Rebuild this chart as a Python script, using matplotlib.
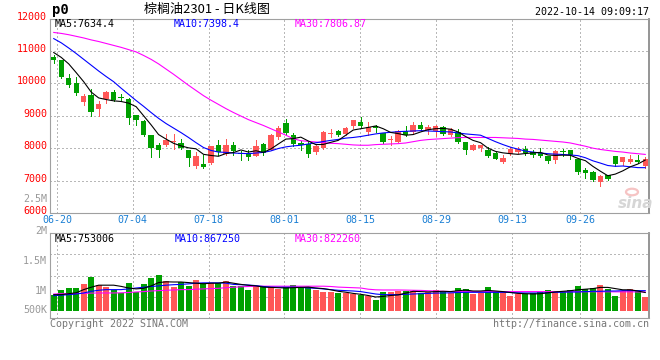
import matplotlib
matplotlib.use('Agg')
import matplotlib.pyplot as plt
import matplotlib.transforms as mtransforms
from matplotlib.patches import Circle
import numpy as np

# daily candles 06-17 .. 10-14 (80 trading days)
opens = [10800, 10720, 10174, 10021, 9439, 9643, 9215, 9521, 9735, 9575,
         9520, 9030, 8827, 8420, 8113, 8093, 8195, 8164, 7940, 7450,
         7517, 7537, 8104, 7826, 8104, 7860, 7847, 7764, 8125, 7949,
         8341, 8773, 8413, 8155, 8135, 7867, 8001, 8433, 8516, 8444,
         8670, 8794, 8485, 8691, 8464, 8238, 8186, 8516, 8485, 8701,
         8547, 8536, 8640, 8393, 8495, 8176, 7949, 8000, 7949, 7847,
         7572, 7817, 7878, 7970, 7868, 7847, 7766, 7623, 7908, 7949,
         7664, 7337, 7266, 6960, 7164, 7766, 7572, 7562, 7643, 7439]
closes = [10730, 10200, 9949, 9715, 9623, 9103, 9368, 9745, 9490, 9560,
          8930, 8880, 8420, 8000, 7940, 8266, 8225, 7990, 7685, 7756,
          7404, 8052, 7867, 8104, 7898, 7830, 7713, 8073, 7847, 8413,
          8619, 8464, 8125, 8083, 7816, 8052, 8495, 8444, 8393, 8619,
          8856, 8691, 8650, 8619, 8176, 8290, 8516, 8393, 8722, 8588,
          8640, 8670, 8433, 8588, 8176, 7929, 8083, 8083, 7743, 7672,
          7694, 7970, 7980, 7847, 7796, 7745, 7592, 7898, 7888, 7776,
          7256, 7235, 7031, 7133, 7051, 7521, 7715, 7664, 7572, 7664]
highs = [10870, 10730, 10276, 10204, 9674, 9817, 9460, 9776, 9786, 9664,
         9540, 9030, 8858, 8420, 8164, 8440, 8450, 8287, 7940, 7890,
         7795, 8073, 8258, 8279, 8176, 7900, 7950, 8258, 8155, 8434,
         8691, 8897, 8464, 8207, 8176, 8104, 8516, 8588, 8567, 8640,
         8876, 8948, 8815, 8722, 8464, 8361, 8547, 8691, 8794, 8794,
         8722, 8701, 8670, 8619, 8598, 8176, 8125, 8083, 8021, 7877,
         7796, 8031, 8031, 8072, 7929, 8000, 7766, 7929, 7970, 7949,
         7664, 7388, 7286, 7164, 7184, 7766, 7715, 7776, 7796, 7715]
lows = [10640, 10150, 9878, 9643, 9337, 9001, 8980, 9388, 9450, 9440,
        8736, 8700, 8368, 7736, 7736, 8062, 7960, 7960, 7450, 7390,
        7383, 7517, 7795, 7795, 7795, 7620, 7650, 7744, 7775, 7929,
        8279, 8413, 8073, 7929, 7723, 7826, 7970, 8341, 8361, 8413,
        8619, 8650, 8413, 8485, 8155, 8083, 8176, 8361, 8444, 8567,
        8444, 8382, 8402, 8361, 8155, 7826, 7929, 7898, 7713, 7661,
        7541, 7796, 7847, 7796, 7715, 7725, 7541, 7541, 7766, 7674,
        7215, 7082, 7000, 6848, 7010, 7460, 7490, 7541, 7541, 7388]

ma5 = [10950, 10800, 10600, 10330, 10050, 9730, 9550, 9500, 9460, 9440,
       9390, 9280, 9000, 8720, 8420, 8280, 8150, 8070, 8010, 7980,
       7810, 7775, 7750, 7835, 7865, 7945, 7880, 7920, 7870, 7975,
       8130, 8280, 8295, 8340, 8220, 8110, 8115, 8180, 8240, 8400,
       8560, 8600, 8640, 8685, 8600, 8485, 8450, 8400, 8420, 8500,
       8570, 8600, 8610, 8585, 8500, 8360, 8240, 8170, 8000, 7900,
       7855, 7830, 7810, 7835, 7855, 7870, 7790, 7775, 7785, 7780,
       7685, 7615, 7440, 7290, 7150, 7200, 7300, 7425, 7510, 7634]
ma10 = [11380, 11250, 11090, 10920, 10740, 10560, 10380, 10210, 10050, 9850,
        9660, 9470, 9290, 9100, 8920, 8760, 8620, 8480, 8330, 8170,
        8020, 7930, 7880, 7870, 7850, 7840, 7830, 7850, 7870, 7915,
        7990, 8040, 8070, 8090, 8130, 8165, 8205, 8240, 8270, 8310,
        8330, 8360, 8400, 8440, 8470, 8490, 8510, 8520, 8530, 8540,
        8530, 8520, 8510, 8500, 8470, 8440, 8420, 8400, 8300, 8200,
        8110, 8030, 7970, 7910, 7880, 7850, 7830, 7815, 7805, 7790,
        7770, 7705, 7610, 7540, 7465, 7440, 7450, 7425, 7400, 7398]
ma30 = [11570, 11540, 11500, 11450, 11400, 11340, 11290, 11230, 11170, 11110,
        11040, 10970, 10860, 10740, 10600, 10440, 10280, 10110, 9940, 9780,
        9620, 9480, 9350, 9220, 9100, 8990, 8880, 8790, 8700, 8600,
        8500, 8400, 8290, 8230, 8210, 8190, 8170, 8150, 8140, 8120,
        8100, 8090, 8090, 8110, 8120, 8130, 8140, 8160, 8200, 8240,
        8265, 8280, 8295, 8310, 8325, 8330, 8330, 8330, 8330, 8330,
        8320, 8310, 8300, 8280, 8270, 8250, 8230, 8210, 8190, 8160,
        8110, 8060, 8000, 7960, 7930, 7900, 7880, 7850, 7830, 7807]

volume = [938, 1017, 1051, 1051, 1119, 1238, 1097, 1068, 1023, 961,
          1136, 984, 1119, 1221, 1272, 1170, 1074, 1148, 1080, 1187,
          1136, 1136, 1136, 1170, 1085, 1091, 1017, 1080, 1063, 1068,
          1040, 1063, 1102, 1051, 1063, 1017, 984, 984, 967, 961,
          944, 927, 910, 854, 984, 984, 1006, 995, 1006, 967,
          984, 1017, 1006, 961, 1051, 1035, 950, 973, 1068, 978,
          978, 922, 956, 950, 967, 990, 1017, 1006, 1006, 1017,
          1085, 1029, 1051, 1102, 1035, 922, 995, 1035, 1006, 905]
vol_ma5 = [939, 939, 956, 970, 1023, 1063, 1097, 1097, 1097, 1077,
           1050, 1035, 1045, 1085, 1140, 1153, 1150, 1150, 1140, 1130,
           1120, 1130, 1130, 1150, 1130, 1110, 1095, 1085, 1065, 1060,
           1055, 1050, 1055, 1060, 1065, 1050, 1040, 1020, 995, 980,
           960, 945, 925, 900, 910, 925, 935, 965, 995, 990,
           985, 990, 995, 990, 1005, 1015, 1000, 1000, 1010, 1000,
           990, 975, 960, 955, 950, 955, 970, 985, 995, 1005,
           1020, 1030, 1040, 1060, 1060, 1040, 1020, 1020, 1000, 975]
vol_ma10 = [922, 930, 939, 950, 967, 995, 1012, 1023, 1023, 1023,
            1035, 1050, 1063, 1075, 1085, 1097, 1105, 1110, 1119, 1130,
            1136, 1136, 1136, 1130, 1110, 1105, 1100, 1090, 1075, 1065,
            1063, 1063, 1063, 1060, 1051, 1045, 1035, 1023, 1012, 1006,
            1000, 990, 970, 950, 939, 939, 939, 945, 950, 955,
            960, 965, 967, 970, 975, 978, 978, 978, 978, 978,
            978, 975, 970, 967, 967, 967, 970, 978, 980, 984,
            984, 990, 995, 995, 1000, 1000, 1006, 1006, 1006, 1006]
vol_ma30 = [950, 955, 956, 958, 960, 965, 967, 967, 967, 970,
            975, 984, 990, 1000, 1006, 1012, 1017, 1023, 1023, 1030,
            1035, 1040, 1045, 1055, 1063, 1070, 1075, 1080, 1080, 1080,
            1080, 1080, 1080, 1080, 1080, 1080, 1080, 1075, 1065, 1060,
            1055, 1050, 1030, 1020, 1017, 1017, 1017, 1015, 1012, 1010,
            1005, 1000, 995, 992, 990, 990, 990, 990, 990, 990,
            990, 990, 990, 990, 990, 990, 990, 988, 988, 988,
            988, 988, 988, 987, 987, 986, 986, 986, 985, 985]

date_labels = ['06-20', '07-04', '07-18', '08-01', '08-15', '08-29', '09-13', '09-26']
date_idx = [1, 11, 21, 31, 41, 51, 61, 70]
price_ticks = [12000, 11000, 10000, 9000, 8000, 7000, 6000]
vol_tick_labels = ['2M', '1.5M', '1M', '500K']
vol_tick_vals = [2000, 1500, 1000, 683]

RED = '#ff5757'
GREEN = '#00a000'
GRID = '#b8b8b8'
BORDER = '#a0a0a0'
MONO = 'DejaVu Sans Mono'
W, H = 660, 360
LW = 0.6          # ~1 px, drawn without antialiasing
DOT = (0, (1.6, 3.2))


def px(x, y):
    # figure pixel -> figure fraction
    return x / W, 1 - y / H


def gridX(idx):
    # sina spaces the date grid a little wider than the candles
    return (idx - 0.08) * 80 / 79 - 0.5


def styleAxes(ax):
    ax.set_xlim(-0.5, len(closes) - 0.5)
    ax.set_xticks([])
    ax.set_yticks([])
    ax.set_facecolor('white')
    for s in ax.spines.values():
        s.set_color(BORDER)
        s.set_linewidth(0.8)
    ax.spines['right'].set_color('#8c8c8c')
    ax.spines['right'].set_linewidth(1.3)
    for d in date_idx:
        ax.axvline(gridX(d), color=GRID, lw=LW, ls=DOT, zorder=0, antialiased=False)


def maLine(ax, y, color, z):
    ax.plot(np.arange(len(y)), y, color=color, lw=0.8, zorder=z)


def drawCandles(ax):
    x = np.arange(len(closes))
    o = np.array(opens)
    c = np.array(closes)
    colors = [RED if c[k] >= o[k] else GREEN for k in range(len(c))]
    ax.vlines(x, lows, highs, colors=colors, lw=LW, zorder=2, antialiased=False)
    body = np.maximum(np.abs(c - o), 30)
    ax.bar(x, body, bottom=np.minimum(o, c), width=0.72, color=colors, lw=0,
           zorder=3, antialiased=False)
    maLine(ax, ma30, '#ff00ff', 4)
    maLine(ax, ma10, '#0000ff', 4)
    maLine(ax, ma5, 'black', 5)
    return colors


def drawVolume(ax, colors):
    x = np.arange(len(volume))
    lo, hi, base = 550, 1966.7, 666.7
    ax.set_ylim(lo, hi)
    for f in (0.25, 0.5, 0.75):
        ax.axhline(lo + f * (hi - lo), color=GRID, lw=LW, ls=DOT, zorder=0,
                   antialiased=False)
    v = np.array(volume)
    ax.bar(x, v - base, bottom=base, width=0.8, color=colors, lw=0, zorder=2,
           antialiased=False)
    maLine(ax, vol_ma30, '#ff00ff', 4)
    maLine(ax, vol_ma10, '#0000ff', 4)
    maLine(ax, vol_ma5, 'black', 5)
    tr = ax.get_yaxis_transform()
    for lab, val in zip(vol_tick_labels, vol_tick_vals):
        ax.text(-0.005, val, lab, transform=tr, ha='right', va='center',
                color='#999999', family=MONO, fontsize=7.2, clip_on=False)


def main():
    plt.rcParams['font.family'] = ['DejaVu Sans']
    fig = plt.figure(figsize=(W / 100, H / 100), dpi=100)
    fig.patch.set_facecolor('white')

    l, b = px(50, 213)
    ax = fig.add_axes([l, b, 599 / W, 194.5 / H])
    l2, b2 = px(50, 318)
    vax = fig.add_axes([l2, b2, 599 / W, 85 / H])

    styleAxes(ax)
    styleAxes(vax)

    ax.set_ylim(6000, 12000)
    for p in price_ticks[1:-1]:
        ax.axhline(p, color=GRID, lw=LW, ls=DOT, zorder=0, antialiased=False)
    colors = drawCandles(ax)
    drawVolume(vax, colors)

    # price labels (red) on the left
    tr = mtransforms.offset_copy(ax.get_yaxis_transform(), fig=fig, y=2, units='dots')
    for p in price_ticks:
        ax.text(-0.005, p, str(p), transform=tr, ha='right', va='center',
                color='#ff0000', family=MONO, fontsize=7.2, clip_on=False)
    ax.text(-0.005, 0.072, '2.5M', transform=ax.transAxes, ha='right', va='center',
            color='#999999', family=MONO, fontsize=7.2)

    # date labels
    xtr = ax.get_xaxis_transform()
    for d, lab in zip(date_idx, date_labels):
        ax.text(gridX(d), -0.036, lab, transform=xtr, ha='center', va='center',
                color='#1a7fd4', family=MONO, fontsize=7.2, clip_on=False)

    # header
    fig.text(*px(52, 10), 'p0', ha='left', va='center', family=MONO,
             fontweight='bold', fontsize=10, color='black')
    fig.text(*px(207, 10), '棕榈油2301 - 日K线图', ha='center', va='center',
             family=['Noto Sans CJK SC', 'DejaVu Sans'], fontsize=9.4, color='black')
    fig.text(*px(649, 12), '2022-10-14 09:09:17', ha='right', va='center',
             family=MONO, fontsize=7.2, color='black')

    # MA legends
    for (txt, c, x0) in [('MA5:7634.4', 'black', 55), ('MA10:7398.4', '#0000ff', 174),
                         ('MA30:7806.87', '#ff00ff', 295)]:
        fig.text(*px(x0, 24), txt, ha='left', va='center', family=MONO,
                 fontsize=7.2, color=c)
    for (txt, c, x0) in [('MA5:753006', 'black', 55), ('MA10:867250', '#0000ff', 175),
                         ('MA30:822260', '#ff00ff', 295)]:
        fig.text(*px(x0, 239), txt, ha='left', va='center', family=MONO,
                 fontsize=7.2, color=c)

    # footer
    fig.text(*px(50, 324), 'Copyright 2022 SINA.COM', ha='left', va='center',
             family=MONO, fontsize=7.2, color='#777777')
    fig.text(*px(649, 324), 'http://finance.sina.com.cn', ha='right', va='center',
             family=MONO, fontsize=7.2, color='#777777')

    # sina watermark
    fig.patches.append(Circle(px(632, 192), 6 / W, transform=fig.transFigure,
                              fill=False, ec='#f6c4c4', lw=1.6))
    fig.text(*px(636, 203), 'sina', ha='center', va='center', fontsize=11,
             fontweight='bold', style='italic', color='#d6d6d6')

    fig.savefig('out.png', dpi=100)


if __name__ == "__main__":
    main()
